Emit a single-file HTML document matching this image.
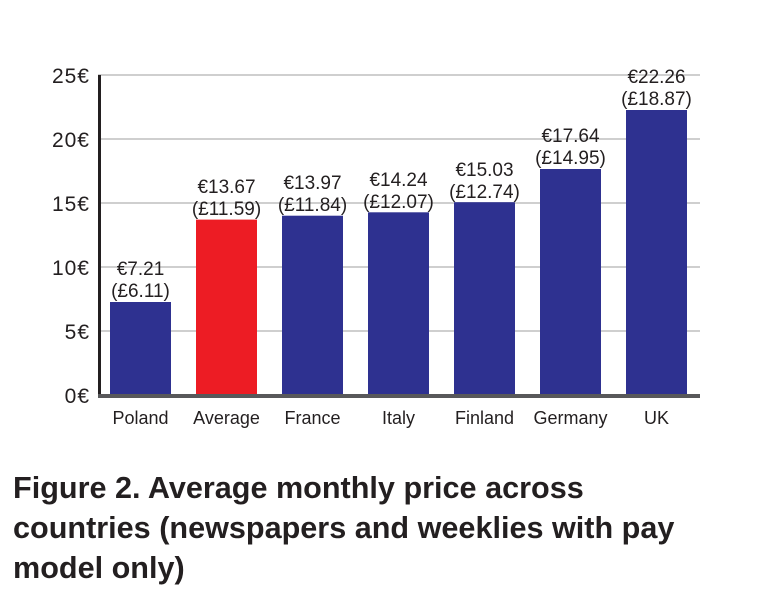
<!DOCTYPE html>
<html><head><meta charset="utf-8"><style>
body{margin:0;background:#fff;width:761px;height:600px;overflow:hidden}
svg{display:block}
text{font-family:"Liberation Sans",Arial,sans-serif;fill:#231f20}
</style></head><body>
<svg width="761" height="600" viewBox="0 0 761 600">
<g stroke="#cfcfcf" stroke-width="2">
<line x1="98" y1="75" x2="700" y2="75"/>
<line x1="98" y1="139" x2="700" y2="139"/>
<line x1="98" y1="203" x2="700" y2="203"/>
<line x1="98" y1="267" x2="700" y2="267"/>
<line x1="98" y1="331" x2="700" y2="331"/>
</g>
<g font-size="21" text-anchor="end" letter-spacing="1">
<text x="90" y="83">25€</text>
<text x="90" y="147">20€</text>
<text x="90" y="211">15€</text>
<text x="90" y="275">10€</text>
<text x="90" y="339">5€</text>
<text x="90" y="403">0€</text>
</g>
<g fill="#2e3190">
<rect x="110" y="302" width="61" height="92"/>
<rect x="196" y="219.6" width="61" height="174.4" fill="#ed1c24"/>
<rect x="282" y="215.7" width="61" height="178.3"/>
<rect x="368" y="212.3" width="61" height="181.7"/>
<rect x="454" y="202.2" width="61" height="191.8"/>
<rect x="540" y="169" width="61" height="225"/>
<rect x="626" y="110" width="61" height="284"/>
</g>
<line x1="99.5" y1="75" x2="99.5" y2="397" stroke="#231f20" stroke-width="3"/>
<line x1="98" y1="396" x2="700" y2="396" stroke="#58585a" stroke-width="4"/>
<g font-size="19" text-anchor="middle">
<text x="140.5" y="275">€7.21</text><text x="140.5" y="297">(£6.11)</text>
<text x="226.5" y="193">€13.67</text><text x="226.5" y="215">(£11.59)</text>
<text x="312.5" y="189">€13.97</text><text x="312.5" y="211">(£11.84)</text>
<text x="398.5" y="186">€14.24</text><text x="398.5" y="208">(£12.07)</text>
<text x="484.5" y="176">€15.03</text><text x="484.5" y="198">(£12.74)</text>
<text x="570.5" y="142">€17.64</text><text x="570.5" y="164">(£14.95)</text>
<text x="656.5" y="83">€22.26</text><text x="656.5" y="105">(£18.87)</text>
</g>
<g font-size="18" text-anchor="middle">
<text x="140.5" y="424">Poland</text>
<text x="226.5" y="424">Average</text>
<text x="312.5" y="424">France</text>
<text x="398.5" y="424">Italy</text>
<text x="484.5" y="424">Finland</text>
<text x="570.5" y="424">Germany</text>
<text x="656.5" y="424">UK</text>
</g>
<g font-size="30.6" font-weight="bold">
<text x="13" y="498">Figure 2. Average monthly price across</text>
<text x="13" y="538">countries (newspapers and weeklies with pay</text>
<text x="13" y="578">model only)</text>
</g>
</svg>
</body></html>
